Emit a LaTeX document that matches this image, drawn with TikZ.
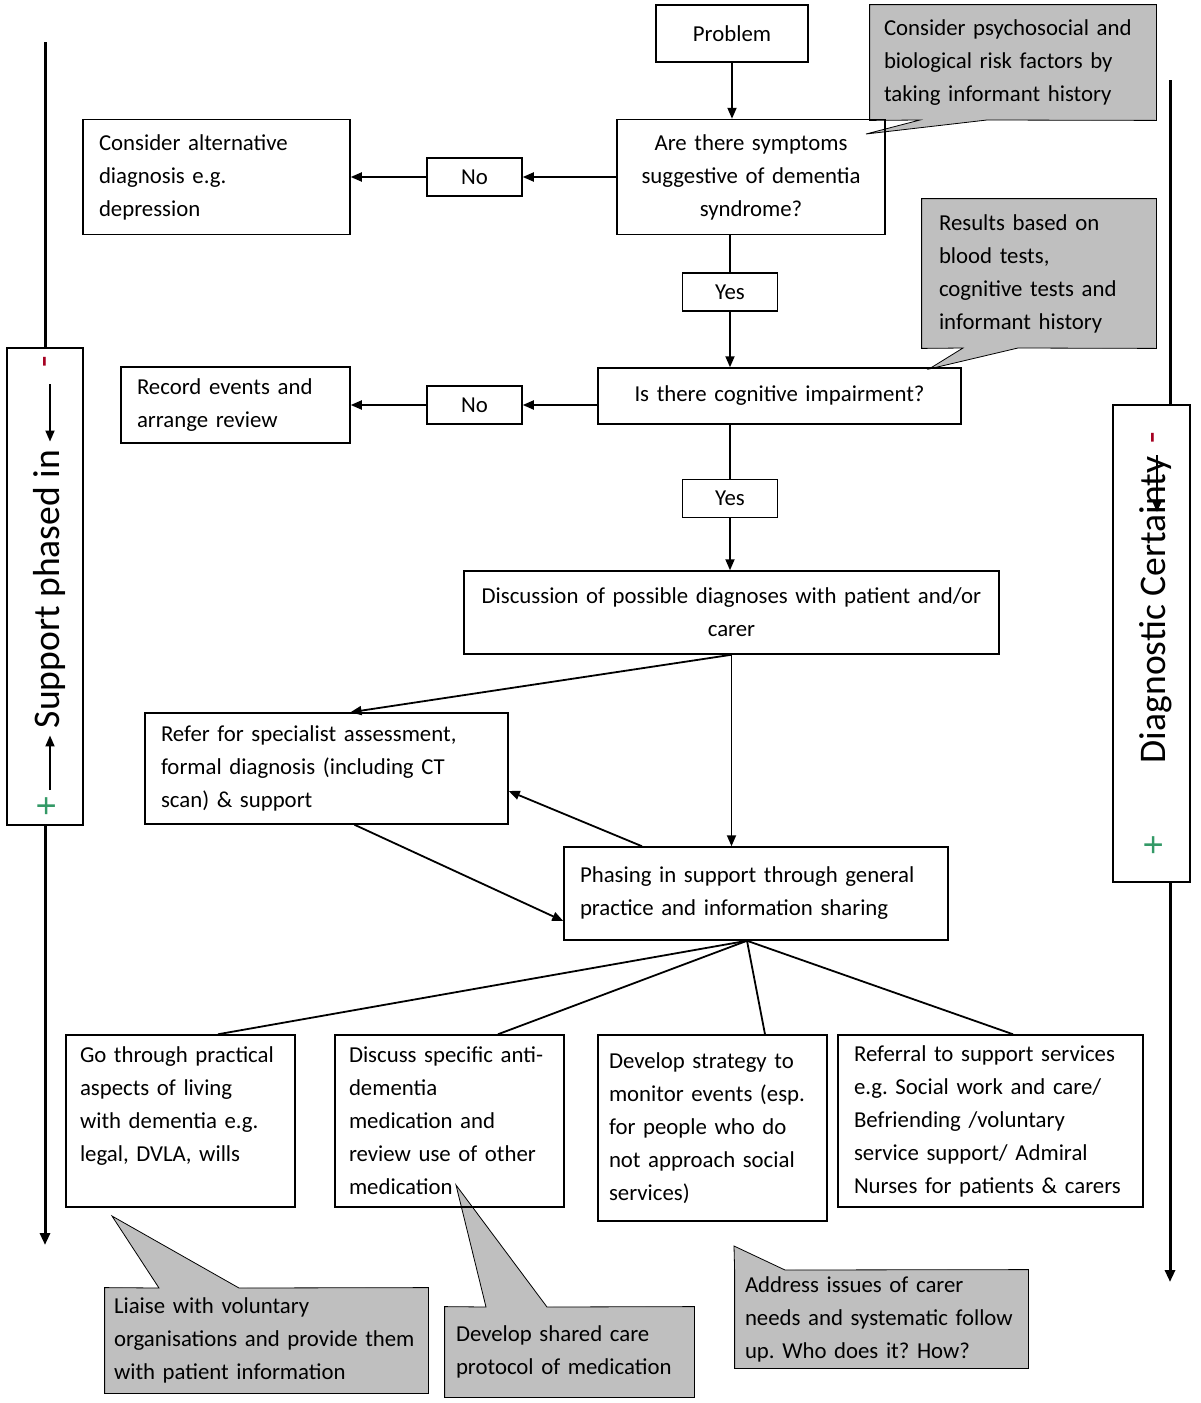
\documentclass[tikz,border=0pt]{standalone}
\usepackage{fontspec}
\setmainfont{Carlito}
\usetikzlibrary{arrows.meta,backgrounds}

\definecolor{notegrey}{RGB}{191,191,191}
\definecolor{minusred}{RGB}{165,0,33}
\definecolor{plusgreen}{RGB}{51,153,102}
\frenchspacing

\begin{document}
\begin{tikzpicture}[x=0.5pt, y=-0.5pt,
    every node/.style={font=\fontsize{11.4}{16.5}\selectfont},
    box/.style={draw, line width=0.75pt, rectangle, inner xsep=8pt, inner ysep=2pt},
    note/.style={rectangle, inner ysep=2pt},
    link/.style={line width=0.9pt},
    arr/.style={link, -{Triangle[length=5.5pt, width=4.5pt]}},
    scaleline/.style={line width=1.5pt},
    side/.style={font=\fontsize{18.8}{22}\selectfont, rotate=90, inner sep=0pt}]
  \path[use as bounding box] (0,0) rectangle (1200,1403);

  % main flow
  \node[box, text width=60pt, align=center, minimum height=28.5pt] (prob) at (732,33.5) {Problem};
  \node[box, text width=118pt, align=center, minimum height=57.5pt] (symp) at (751,177) {Are there symptoms\\ suggestive of dementia\\ syndrome?};
  \node[box, text width=31.5pt, align=center, minimum height=19pt] (no1) at (474.5,177) {No};
  \node[box, text width=117.5pt, align=left, minimum height=57.5pt] (alt) at (216.5,177) {Consider alternative\\ diagnosis e.g.\\ depression};
  \node[box, text width=31.5pt, align=center, minimum height=19pt] (yes1) at (730,292) {Yes};
  \node[box, text width=165.5pt, align=center, minimum height=28pt] (cogn) at (779.5,396) {Is there cognitive impairment?};
  \node[box, text width=31.5pt, align=center, minimum height=19pt] (no2) at (474.5,405) {No};
  \node[box, text width=98.5pt, align=left, minimum height=38pt] (rec) at (235.5,405) {Record events and\\ arrange review};
  \node[box, text width=31.5pt, align=center, minimum height=19pt] (yes2) at (730,498.5) {Yes};
  \node[box, inner xsep=4pt, text width=259.5pt, align=center, minimum height=41.5pt] (disc) at (731.5,612.5) {Discussion of possible diagnoses with patient and/or\\ carer};
  \node[box, text width=165.5pt, align=left, minimum height=55.5pt] (refer) at (326.5,768.5) {Refer for specialist assessment,\\ formal diagnosis (including CT\\ scan) \& support};
  \node[box, text width=176pt, align=left, minimum height=46.5pt] (phase) at (756,893.5) {Phasing in support through general\\ practice and information sharing};

  % tasks
  \node[box, inner xsep=7pt, text width=100.5pt, align=left, minimum height=86pt] (live) at (180.5,1121) {Go through practical\\ aspects of living\\ with dementia e.g.\\ legal, DVLA, wills\\ \mbox{}};
  \node[box, inner xsep=7pt, text width=100.5pt, align=left, minimum height=86pt] (med) at (449.5,1121) {Discuss specific anti-\\ dementia\\ medication and\\ review use of other\\ medication};
  \node[box, inner xsep=5.5pt, text width=103.5pt, align=left, minimum height=93pt] (mon) at (712.5,1128) {Develop strategy to\\ monitor events (esp.\\ for people who do\\ not approach social\\ services)};
  \node[box, text width=136.5pt, align=left, minimum height=86pt] (serv) at (990.5,1121) {Referral to support services\\ e.g. Social work and care/\\ Befriending /voluntary\\ service support/ Admiral\\ Nurses for patients \& carers};

  \draw[arr] (prob.south) -- (prob.south |- symp.north);
  \draw[arr] (symp.west) -- (no1.east);
  \draw[arr] (no1.west) -- (alt.east);
  \draw[link] (yes1.north |- symp.south) -- (yes1.north);
  \draw[arr] (yes1.south) -- (yes1.south |- cogn.north);
  \draw[arr] (no2.east -| cogn.west) -- (no2.east);
  \draw[arr] (no2.west) -- (rec.east);
  \draw[link] (yes2.north |- cogn.south) -- (yes2.north);
  \draw[arr] (yes2.south) -- (yes2.south |- disc.north);
  \draw[arr] (disc.south) -- ([xshift=12pt]refer.north);
  \draw[arr] (disc.south) -- (disc.south |- phase.north);
  \draw[arr] ([xshift=-57pt]phase.north) -- ([yshift=-11.25pt]refer.east);
  \draw[arr] ([xshift=14pt]refer.south) -- ([yshift=-13.75pt]phase.west);
  \foreach \task/\shift in {live/18.75pt, med/24.25pt, mon/26.25pt, serv/11.25pt}
    \draw[link] ([xshift=-4.5pt]phase.south) -- ([xshift=\shift]\task.north);

  % callouts
  \node[note, inner xsep=7pt, text width=129pt, align=left, minimum height=57.5pt] (risk) at (1013,62.5) {Consider psychosocial and\\ biological risk factors by\\ taking informant history};
  \node[note, inner xsep=8.5pt, text width=100pt, align=left, minimum height=74.5pt] (tests) at (1039,273.5) {Results based on\\ blood tests,\\ cognitive tests and\\ informant history};
  \node[note, inner xsep=4.5pt, text width=152.5pt, align=left, minimum height=52.5pt] (vol) at (266.5,1340.5) {Liaise with voluntary\\ organisations and provide them\\ with patient information};
  \node[note, inner xsep=5.5pt, text width=113.5pt, align=left, minimum height=45pt] (shared) at (569.5,1352) {Develop shared care\\ protocol of medication};
  \node[note, inner xsep=5pt, text width=136.5pt, align=left, minimum height=49pt] (carer) at (881.5,1319) {Address issues of carer\\ needs and systematic follow\\ up. Who does it? How?};
  \begin{scope}[on background layer, line width=0.75pt]
    \draw[fill=notegrey] (risk.north west) -- (risk.north east) -- (risk.south east) -- (987,120) -- (866,134) -- (920,120) -- (risk.south west) -- cycle;
    \draw[fill=notegrey] (tests.north west) -- (tests.north east) -- (tests.south east) -- (1018,348) -- (929,369) -- (963,348) -- (tests.south west) -- cycle;
    \draw[fill=notegrey] (vol.north west) -- (159,1288) -- (112,1216) -- (239,1288) -- (vol.north east) -- (vol.south east) -- (vol.south west) -- cycle;
    \draw[fill=notegrey] (shared.north west) -- (486,1307) -- (456,1185) -- (547,1307) -- (shared.north east) -- (shared.south east) -- (shared.south west) -- cycle;
    \draw[fill=notegrey] (carer.north west) -- (734,1246) -- (785,1270) -- (carer.north east) -- (carer.south east) -- (carer.south west) -- cycle;
  \end{scope}

  % side scales
  \node[draw, line width=0.75pt, minimum width=38pt, minimum height=238.5pt] (supp) at (45,586.5) {};
  \coordinate (supptop) at (45,42);
  \coordinate (suppend) at (45,1245);
  \draw[scaleline] (supptop) -- (supp.north);
  \draw[scaleline, -{Triangle[length=6pt, width=5pt]}] (supp.south) -- (suppend);
  \node[side] (supptext) at (49,589) {Support phased in};
  \node[side, text=minusred] (suppminus) at (50,362) {-};
  \node[side, text=plusgreen] (suppplus) at (48,806) {+};
  \draw[arr, shorten <=8pt, shorten >=4pt] (suppminus.west) -- (suppminus.west |- supptext.east);
  \draw[arr, shorten <=3pt, shorten >=3.5pt] (suppminus.west |- suppplus.east) -- (suppminus.west |- supptext.west);

  \node[draw, line width=0.75pt, minimum width=38.5pt, minimum height=238.5pt] (cert) at (1151.5,643.5) {};
  \coordinate (certtop) at (1170,80);
  \coordinate (certend) at (1170,1282);
  \draw[scaleline] (certtop) -- (certtop |- cert.north);
  \draw[scaleline, -{Triangle[length=6pt, width=5pt]}] (certtop |- cert.south) -- (certend);
  \node[side] (certtext) at (1156,610) {Diagnostic Certainty};
  \node[side, text=minusred] (certminus) at (1157,438) {-};
  \node[side, text=plusgreen] (certplus) at (1155,845) {+};
  \draw[arr, shorten <=5.5pt] (certminus.west) -- ++(0,68);
\end{tikzpicture}
\end{document}
